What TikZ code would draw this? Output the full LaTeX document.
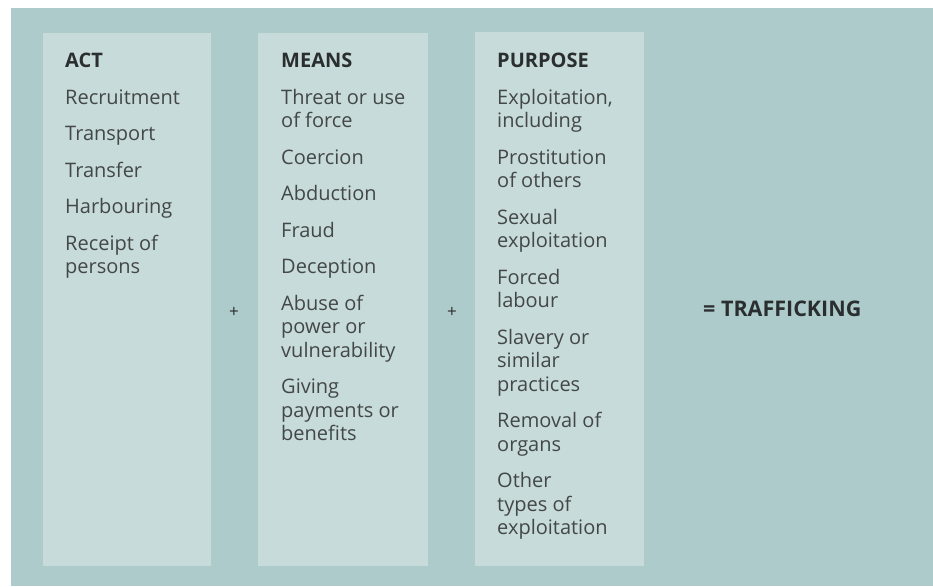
\documentclass[tikz,border=0pt]{standalone}
\usepackage{fontspec}
\setmainfont{Open Sans}
\definecolor{bgteal}{HTML}{AECBCC}
\definecolor{boxteal}{HTML}{C7DBDA}
\definecolor{txt}{HTML}{434747}
\definecolor{head}{HTML}{2A2E2E}
\tikzset{
  colbox/.style={fill=boxteal, draw=none, inner sep=0pt, anchor=north west, minimum width=#1},
  colbox/.default=169pt,
  headtxt/.style={anchor=base west, inner sep=0pt, text=head, font=\fontsize{20}{24}\selectfont\bfseries},
  bodytxt/.style={anchor=base west, inner sep=0pt, text=txt},
  optxt/.style={inner sep=0pt, text=head, font=\fontsize{17}{20}\selectfont},
}
\newcommand{\colitems}[1]{\parbox[t]{165pt}{\raggedright\fontsize{20}{23.5}\selectfont #1}}
\begin{document}
\begin{tikzpicture}[x=1pt,y=-1pt]
\useasboundingbox (0,0) rectangle (933,586);
\fill[white] (0,0) rectangle (933,586);
\node[fill=bgteal, inner sep=0pt, anchor=north west, minimum width=922pt, minimum height=578pt] (bg) at (11,8) {};
\node[colbox=168pt, minimum height=533pt] (actbox) at (43,33) {};
\node[colbox=170pt, minimum height=533pt] (meansbox) at (258,33) {};
\node[colbox=169pt, minimum height=534pt] (purposebox) at (475,32) {};

\node[headtxt] (acthead) at (65,67) {ACT};
\node[headtxt] (meanshead) at (281,67) {MEANS};
\node[headtxt] (purposehead) at (497,67) {PURPOSE};

\node[bodytxt] (actlist) at (65,104) {\colitems{Recruitment\\[13pt]Transport\\[13pt]Transfer\\[13pt]Harbouring\\[13pt]Receipt of\\persons}};
\node[bodytxt] (meanslist) at (281,104) {\colitems{Threat or use\\of force\\[13pt]Coercion\\[13pt]Abduction\\[13pt]Fraud\\[13pt]Deception\\[13pt]Abuse of\\power or\\vulnerability\\[13pt]Giving\\payments or\\benefits}};
\node[bodytxt] (purposelist) at (497,104) {\colitems{Exploitation,\\including\\[13pt]Prostitution\\of others\\[13pt]Sexual\\exploitation\\[13pt]Forced\\labour\\[13pt]Slavery or\\similar\\practices\\[13pt]Removal of\\organs\\[13pt]Other\\types of\\exploitation}};

\node[optxt] (plusone) at (234,312) {+};
\node[optxt] (plustwo) at (452,312) {+};
\node[headtxt, font=\fontsize{21.5}{25}\selectfont\bfseries] (result) at (703,316) {= TRAFFICKING};
\end{tikzpicture}
\end{document}
